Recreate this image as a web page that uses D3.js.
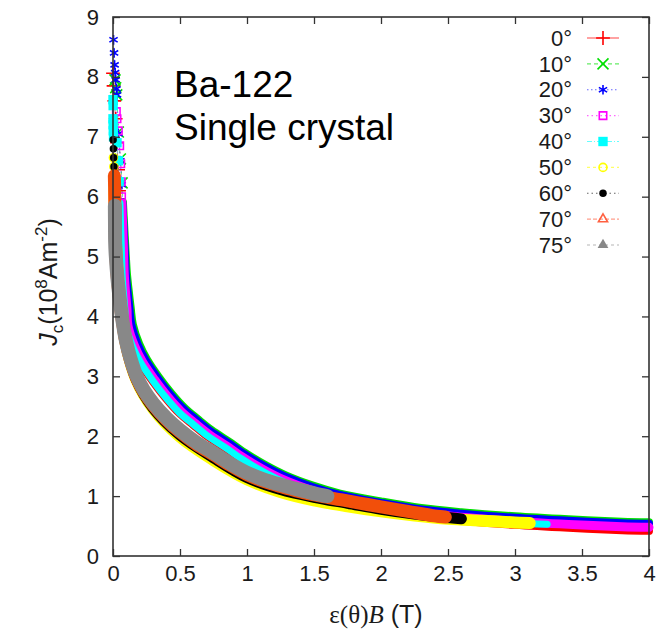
<!DOCTYPE html>
<html>
<head>
<meta charset="utf-8">
<script src="https://cdn.jsdelivr.net/npm/d3@7"></script>
<style>
  body { margin: 0; background: #fff; }
  text { font-family: "Liberation Sans", Arial, sans-serif; fill: #1a1a1a; }
</style>
</head>
<body>
<div id="chart"></div>
<script>
'use strict';

// Jc vs eps(theta)B for a Ba-122 single crystal
// each point: [eps(theta)B in T, Jc in 1e8 A/m^2]
var angles = ['0°', '10°', '20°', '30°', '40°', '50°', '60°', '70°', '75°'];

var xTicks = [0, 0.5, 1, 1.5, 2, 2.5, 3, 3.5, 4];
var yTicks = [0, 1, 2, 3, 4, 5, 6, 7, 8, 9];

var jc0 = [[0.0, 8.06], [0.004, 7.85], [0.01, 7.6], [0.02, 7.3], [0.03, 6.9], [0.038, 6.45], [0.045, 6.1],
    [0.052, 5.88], [0.058, 5.42], [0.064, 5.01], [0.068, 4.69], [0.076, 4.43], [0.088, 4.12], [0.097, 3.826],
    [0.147, 3.484], [0.208, 3.211], [0.297, 2.917], [0.397, 2.628], [0.495, 2.384], [0.6, 2.186],
    [0.704, 1.998], [0.856, 1.775], [0.958, 1.613], [1.112, 1.407], [1.27, 1.229], [1.475, 1.054],
    [1.682, 0.919], [2.0, 0.77], [2.3, 0.66], [2.6, 0.59], [3.0, 0.52], [3.4, 0.47], [3.8, 0.43], [4.0, 0.42]];

var jc10 = [[0.015, 7.95], [0.02, 7.82], [0.028, 7.7], [0.04, 7.08], [0.055, 6.63], [0.068, 6.23],
    [0.074, 5.91], [0.085, 5.45], [0.095, 5.04], [0.104, 4.71], [0.116, 4.455], [0.132, 4.145], [0.148, 3.866],
    [0.196, 3.538], [0.254, 3.28], [0.339, 2.996], [0.437, 2.713], [0.532, 2.478], [0.633, 2.285],
    [0.735, 2.103], [0.885, 1.882], [0.986, 1.721], [1.137, 1.519], [1.29, 1.346], [1.492, 1.175],
    [1.694, 1.043], [2.0, 0.912], [2.3, 0.802], [2.6, 0.732], [3.0, 0.662], [3.4, 0.612], [3.8, 0.572],
    [4.0, 0.562]];

var jc20 = [[0.004, 8.62], [0.008, 8.4], [0.012, 8.2], [0.016, 8.07], [0.02, 7.95], [0.026, 7.8], [0.03, 7.7],
    [0.04, 7.05], [0.055, 6.6], [0.065, 6.2],
    [0.07, 5.905], [0.08, 5.445], [0.089, 5.035], [0.096, 4.71], [0.107, 4.45], [0.122, 4.14], [0.137, 3.859],
    [0.185, 3.529], [0.244, 3.268], [0.33, 2.981], [0.428, 2.697], [0.524, 2.46], [0.626, 2.266],
    [0.728, 2.082], [0.879, 1.861], [0.98, 1.7], [1.132, 1.497], [1.286, 1.324], [1.488, 1.151],
    [1.692, 1.019], [2.0, 0.887], [2.3, 0.777], [2.6, 0.707], [3.0, 0.637], [3.4, 0.587], [3.8, 0.547],
    [4.0, 0.537]];

var jc30 = [[0.025, 7.42], [0.03, 7.3], [0.04, 7.1], [0.05, 6.85], [0.058, 6.55], [0.062, 6.25], [0.064, 6.0],
    [0.066, 5.9], [0.073, 5.44], [0.079, 5.03], [0.084, 4.705], [0.092, 4.445], [0.104, 4.135], [0.112, 3.845],
    [0.161, 3.507], [0.221, 3.238], [0.309, 2.947], [0.408, 2.659], [0.506, 2.418], [0.609, 2.221],
    [0.713, 2.035], [0.864, 1.813], [0.966, 1.651], [1.119, 1.446], [1.275, 1.27], [1.48, 1.096],
    [1.686, 0.961], [2.0, 0.828], [2.3, 0.718], [2.6, 0.648], [3.0, 0.578], [3.4, 0.528], [3.8, 0.488],
    [4.0, 0.478]];

var jc40 = [[0.0, 7.62], [0.001, 7.52], [0.0, 7.3], [0.001, 7.2], [0.002, 7.1], [0.004, 7.0], [0.03, 6.9],
    [0.04, 6.6], [0.046, 6.25],
    [0.052, 5.89], [0.058, 5.43], [0.064, 5.02], [0.068, 4.7], [0.076, 4.44], [0.088, 4.13], [0.097, 3.837],
    [0.147, 3.494], [0.208, 3.221], [0.297, 2.927], [0.397, 2.638], [0.495, 2.394], [0.6, 2.196],
    [0.704, 2.008], [0.856, 1.785], [0.958, 1.623], [1.112, 1.417], [1.27, 1.239], [1.475, 1.064],
    [1.682, 0.929], [2.0, 0.795], [2.3, 0.685], [2.6, 0.615], [3.0, 0.545], [3.24, 0.53]];

var jc50 = [[0.003, 6.65], [0.006, 6.5], [0.01, 6.2], [0.02, 5.3], [0.04, 4.6], [0.06, 4.12], [0.096, 3.55],
    [0.173, 2.95], [0.3, 2.46], [0.5, 1.99], [0.75, 1.6], [1.0, 1.28], [1.25, 1.07], [1.5, 0.93],
    [1.75, 0.83], [2.0, 0.745], [2.25, 0.675], [2.5, 0.62], [2.75, 0.59], [3.0, 0.56], [3.11, 0.55]];

var jc60 = [[0.001, 6.95], [0.003, 6.8], [0.005, 6.65], [0.007, 6.5], [0.009, 6.4], [0.014, 5.9], [0.025, 5.0],
    [0.04, 4.5], [0.06, 4.08], [0.096, 3.55], [0.173, 2.95], [0.3, 2.47], [0.5, 2.02], [0.75, 1.64],
    [1.0, 1.31], [1.25, 1.11], [1.5, 0.98], [1.75, 0.88], [2.0, 0.78], [2.25, 0.7], [2.45, 0.65], [2.6, 0.62]];

var jc70 = [[0.01, 6.35], [0.012, 6.15], [0.013, 5.95], [0.015, 5.75], [0.017, 5.4], [0.022, 5.0], [0.035, 4.58],
    [0.057, 4.15], [0.075, 3.85], [0.096, 3.58], [0.13, 3.27], [0.173, 2.99], [0.23, 2.74], [0.3, 2.52],
    [0.4, 2.27], [0.5, 2.07], [0.62, 1.87], [0.75, 1.69], [0.87, 1.52], [1.0, 1.36], [1.12, 1.25],
    [1.25, 1.16], [1.4, 1.07], [1.55, 1.0], [1.7, 0.94], [1.85, 0.88], [2.0, 0.82], [2.2, 0.745],
    [2.4, 0.67], [2.48, 0.65]];

var jc75 = [[0.014, 5.85], [0.015, 5.5], [0.016, 5.25], [0.02, 5.04], [0.035, 4.6], [0.057, 4.17], [0.075, 3.87],
    [0.096, 3.6], [0.13, 3.3], [0.173, 3.02], [0.23, 2.77], [0.3, 2.55], [0.4, 2.3], [0.5, 2.1], [0.62, 1.9],
    [0.75, 1.72], [0.87, 1.55], [1.0, 1.39], [1.12, 1.28], [1.25, 1.19], [1.4, 1.1], [1.55, 1.02], [1.6, 1.0]];

// number of leading, sparsely measured points drawn as single markers only
var sparseHead = [7, 6, 10, 7, 9, 2, 5, 0, 0];

var width = 663;
var height = 635;
var margin = {top: 17, right: 14, bottom: 79, left: 113};

var colors = ['#ff0000', '#00e000', '#0000ff', '#ff00ff', '#00ffff', '#ffff00', '#000000', '#f24f0a', '#888888'];
var legendColors = ['#ff0000', '#00e000', '#0000ff', '#ff00ff', '#00ffff', '#ffff00', '#000000', '#ff6040', '#888888'];
var symbols = ['plus', 'x', 'star', 'square', 'fsquare', 'circle', 'fcircle', 'triangle', 'ftriangle'];
var bandWidth = [8, 8, 8, 9, 7, 12, 11, 13, 14];
var dashes = [null, '4,3', '1.5,2.5', '1.5,3', '5,2,1,2', '3,3', '1.5,3', '4,2', '3,3'];

var series = [jc0, jc10, jc20, jc30, jc40, jc50, jc60, jc70, jc75].map(function(pts, i) {
    return {
        label: angles[i],
        points: pts,
        head: sparseHead[i],
        color: colors[i],
        legendColor: legendColors[i],
        symbol: symbols[i],
        band: bandWidth[i],
        dash: dashes[i]
    };
});

var svg = d3.select('#chart').append('svg')
    .attr('width', width)
    .attr('height', height);

var x = d3.scaleLinear().domain([0, 4]).range([margin.left, width - margin.right]);
var y = d3.scaleLinear().domain([0, 9]).range([height - margin.bottom, margin.top]);

var markerPath = function(type) {
    var gen = {
        plus: [d3.symbolPlus, 64],
        x: [d3.symbolX, 80],
        star: [d3.symbolAsterisk, 64],
        square: [d3.symbolSquare2, 70],
        fsquare: [d3.symbolSquare, 88],
        circle: [d3.symbolCircle, 50],
        fcircle: [d3.symbolCircle, 44],
        triangle: [d3.symbolTriangle2, 60],
        ftriangle: [d3.symbolTriangle, 50]
    }[type];
    return d3.symbol().type(gen[0]).size(gen[1])();
};

var isFilled = function(type) {
    return type === 'fsquare' || type === 'fcircle' || type === 'ftriangle';
};

var drawMarker = function(sel, s) {
    sel.attr('d', markerPath(s.symbol))
        .style('fill', isFilled(s.symbol) ? s.color : 'none')
        .style('stroke', s.color)
        .style('stroke-width', isFilled(s.symbol) ? 0 : 1.6);
};

var bandLine = d3.line()
    .x(function(d) { return x(d[0]); })
    .y(function(d) { return y(d[1]); })
    .curve(d3.curveCatmullRom.alpha(0.5));

var thinLine = d3.line()
    .x(function(d) { return x(d[0]); })
    .y(function(d) { return y(d[1]); });

// curves, drawn in legend order so the later angles sit on top.
// the dense part of each run is a solid band, the sparse start single markers
var plot = svg.append('g').attr('class', 'curves');

series.forEach(function(s) {
    var g = plot.append('g');

    g.append('path')
        .attr('d', thinLine(s.points))
        .style('fill', 'none')
        .style('stroke', s.color)
        .style('stroke-width', 1)
        .style('stroke-dasharray', s.dash)
        .style('opacity', 0.6);

    g.append('path')
        .attr('d', bandLine(s.points.slice(s.head)))
        .style('fill', 'none')
        .style('stroke', s.color)
        .style('stroke-width', s.band)
        .style('stroke-linecap', 'round')
        .style('stroke-linejoin', 'round');

    g.selectAll('path.pt')
        .data(s.points.slice(0, s.head))
        .enter().append('path')
        .attr('class', 'pt')
        .attr('transform', function(d) { return 'translate(' + x(d[0]) + ',' + y(d[1]) + ')'; })
        .call(drawMarker, s);
});

// frame and ticks (inward, mirrored on top and right)
var fmt = function(d) { return String(d); };

var styleAxis = function(g) {
    g.select('.domain').remove();
    g.selectAll('.tick line').style('stroke', '#333').style('stroke-width', 1.3);
    g.selectAll('.tick text').style('font-size', '22px').style('fill', '#1a1a1a')
        .style('font-family', '"Liberation Sans", Arial, sans-serif');
};

svg.append('g')
    .attr('transform', 'translate(0,' + y(0) + ')')
    .call(d3.axisBottom(x).tickValues(xTicks).tickFormat(fmt).tickSizeInner(-7).tickSizeOuter(0).tickPadding(9))
    .call(styleAxis);

svg.append('g')
    .attr('transform', 'translate(0,' + y(9) + ')')
    .call(d3.axisTop(x).tickValues(xTicks).tickFormat('').tickSizeInner(-7).tickSizeOuter(0))
    .call(styleAxis);

svg.append('g')
    .attr('transform', 'translate(' + x(0) + ',0)')
    .call(d3.axisLeft(y).tickValues(yTicks).tickFormat(fmt).tickSizeInner(-7).tickSizeOuter(0).tickPadding(14))
    .call(styleAxis);

svg.append('g')
    .attr('transform', 'translate(' + x(4) + ',0)')
    .call(d3.axisRight(y).tickValues(yTicks).tickFormat('').tickSizeInner(-7).tickSizeOuter(0))
    .call(styleAxis);

svg.append('rect')
    .attr('x', x(0))
    .attr('y', y(9))
    .attr('width', x(4) - x(0))
    .attr('height', y(0) - y(9))
    .style('fill', 'none')
    .style('stroke', '#333')
    .style('stroke-width', 1.6);

// axis titles
var xTitle = svg.append('text')
    .attr('x', 376)
    .attr('y', 623)
    .attr('text-anchor', 'middle')
    .style('font-size', '25px');
xTitle.append('tspan').style('font-family', '"Liberation Serif", "Times New Roman", serif').text('ε(θ)');
xTitle.append('tspan').style('font-family', '"Liberation Serif", "Times New Roman", serif')
    .style('font-style', 'italic').text('B');
xTitle.append('tspan').text(' (T)');

var yTitle = svg.append('text')
    .attr('transform', 'translate(57,282) rotate(-90)')
    .attr('text-anchor', 'middle')
    .style('font-size', '25px');
yTitle.append('tspan').style('font-style', 'italic').text('J');
yTitle.append('tspan').attr('dy', 6).style('font-size', '17px').text('c');
yTitle.append('tspan').attr('dy', -6).text('(10');
yTitle.append('tspan').attr('dy', -10).style('font-size', '17px').text('8');
yTitle.append('tspan').attr('dy', 10).text('Am');
yTitle.append('tspan').attr('dy', -10).style('font-size', '17px').text('-2');
yTitle.append('tspan').attr('dy', 10).text(')');

// sample annotation
svg.append('text').attr('x', 174).attr('y', 97).style('font-size', '37px').style('fill', '#000').text('Ba-122');
svg.append('text').attr('x', 174).attr('y', 140).style('font-size', '37px').style('fill', '#000').text('Single crystal');

// legend
var legend = svg.append('g').attr('class', 'legend');
var legendY = d3.scalePoint().domain(angles).range([38, 245]);

var item = legend.selectAll('g')
    .data(series)
    .enter().append('g')
    .attr('transform', function(d) { return 'translate(0,' + legendY(d.label) + ')'; });

item.append('text')
    .attr('x', 572)
    .attr('dy', '0.35em')
    .attr('text-anchor', 'end')
    .style('font-size', '22px')
    .text(function(d) { return d.label; });

item.append('line')
    .attr('x1', 587)
    .attr('x2', 619)
    .style('stroke', function(d) { return d.legendColor; })
    .style('stroke-width', 1.2)
    .style('stroke-dasharray', function(d) { return d.dash; })
    .style('opacity', 0.6);

item.append('path')
    .attr('transform', 'translate(603,0)')
    .each(function(d) {
        d3.select(this).call(drawMarker, Object.assign({}, d, {color: d.legendColor}));
    });
</script>
</body>
</html>
